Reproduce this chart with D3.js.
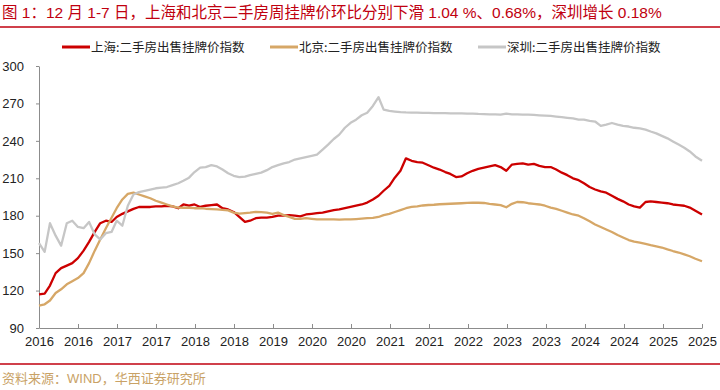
<!DOCTYPE html>
<html>
<head>
<meta charset="utf-8">
<script src="https://cdn.jsdelivr.net/npm/d3@7"></script>
<style>
body{margin:0;background:#fff}
svg{display:block;font-family:"Liberation Sans","Noto Sans CJK SC",sans-serif}
</style>
</head>
<body>
<svg></svg>
<script>
// monthly readings, Jan 2016 .. Nov 2025, last point = 7 Dec 2025
let dates = d3.timeMonth.range(new Date(2016,0,1), new Date(2025,11,1))
dates.push(new Date(2025,11,7))

let shanghai = [
  117, 117.5, 124, 134, 138, 140, 142, 146, 152, 159, 167, 174,
  176, 175, 179, 181.5, 183.5, 185.5, 187, 187, 187, 187.5, 187.5, 188,
  187.5, 186, 189, 188, 189, 187, 188, 188.5, 189, 186, 185, 183,
  179, 175, 176, 178, 178.5, 178.5, 179, 180, 180, 180.5, 180, 179.5,
  181, 181.5, 182, 182.5, 183.5, 184.5, 185, 186, 187, 188, 189, 190.5,
  193, 196, 200, 204, 210.5, 216, 226, 224, 223, 222.5, 220.5, 218.5,
  217, 215, 213.5, 211, 211.5, 214, 216, 217.5, 218.5, 219.5, 220.5, 219,
  216, 221, 221.5, 222, 221, 221.5, 220, 219, 219, 217, 214.5, 212.5,
  210, 208.5, 206, 203, 201, 199.5, 198.5, 196, 193.5, 191.5, 189, 187.5,
  186.5, 191, 191.5, 191, 190.5, 190, 189, 188.5, 188, 186.5, 184, 181
]

let beijing = [
  108, 109, 112, 118, 121, 125, 127.5, 130, 134, 142, 152, 161,
  170, 178.4, 186, 193, 197.5, 198.5, 197, 195.5, 194, 192, 190.5, 189,
  187.5, 186.5, 186.4, 186.4, 186, 186, 185.6, 185.3, 185, 184.7, 184.3, 182.5,
  181.6, 182, 182.4, 183, 182.8, 182.4, 181.5, 182.5, 180.5, 179, 177.5, 177.5,
  178, 177.5, 177, 177, 177, 177, 176.8, 177, 177, 177.3, 177.7, 178,
  178.2, 179, 180.5, 181.5, 183, 184.5, 186, 187, 187.5, 188.2, 188.6, 188.8,
  189.2, 189.4, 189.6, 189.8, 190, 190.3, 190.4, 190.4, 190.2, 189.5, 189, 188.5,
  186.8, 189.5, 191, 190.8, 190, 189.5, 189, 188, 186.5, 185.5, 184, 182.5,
  181, 180, 178, 175.5, 173, 171, 169, 167, 164.5, 162.5, 160.5, 159.3,
  158.5, 157.5, 156.5, 155.5, 154.5, 153, 151.7, 150.5, 149, 147.5, 145.5, 143.5
]

let shenzhen = [
  158, 151, 174, 164, 156, 174, 176, 171, 170, 175, 165, 161,
  166, 167, 176, 172, 188, 197, 199, 200, 201, 202, 202.5, 203,
  204.5, 206, 208, 210.5, 215, 218.5, 219, 220.5, 219.5, 217, 214, 212,
  211, 211.3, 212.5, 213.5, 214.5, 216.5, 219, 220.5, 222, 223, 225, 226,
  227, 228, 229, 233, 237, 241.5, 245, 250.5, 254.5, 257, 260.5, 262.5,
  268, 275, 265, 264, 263.5, 263, 262.8, 262.7, 262.6, 262.5, 262.4, 262.3,
  262.2, 262.2, 262.1, 262, 262, 261.9, 261.8, 261.6, 261.5, 261.3, 261.2, 261,
  261.8, 261.3, 261.2, 261.1, 261, 260.8, 260.5, 260.2, 260, 259.5, 259, 258.5,
  258, 257, 257, 256, 255.5, 252, 253, 254.3, 253, 252, 251.5, 250.5,
  250, 249, 247.5, 246, 244, 242, 239.5, 237, 234.5, 231.5, 227.5, 224
]

let seriesNames = ['上海:二手房出售挂牌价指数','北京:二手房出售挂牌价指数','深圳:二手房出售挂牌价指数']
let seriesColors = ['#cc0000','#d6a767','#c6c6c6']

let yTicks = [90,120,150,180,210,240,270,300]
let xTickLabels = ['2016','2016','2017','2017','2018','2018','2019','2020','2020',
                   '2021','2021','2022','2023','2023','2024','2024','2025','2025']

let title = '图 1：12 月 1-7 日，上海和北京二手房周挂牌价环比分别下滑 1.04 %、0.68%，深圳增长 0.18%'
let source = '资料来源：WIND，华西证券研究所'

let width = 720
let height = 390
let plotLeft = 39, plotRight = 702, plotTop = 66, plotBottom = 328

let svg = d3.select('svg').attr('width',width).attr('height',height)

let xScale = d3.scaleTime()
               .domain([dates[0], dates[dates.length-1]])
               .range([plotLeft,plotRight])
let yScale = d3.scaleLinear()
               .domain([90,300])
               .range([plotBottom,plotTop])

// title + rules
svg.append('text')
   .attr('x',2).attr('y',18)
   .attr('fill','#c0000f')
   .style('font-size','15.5px')
   .text(title)
svg.append('line').attr('x1',0).attr('x2',width).attr('y1',27).attr('y2',27)
   .attr('stroke','#c0000f').attr('stroke-width',1.5)
svg.append('line').attr('x1',0).attr('x2',width).attr('y1',364).attr('y2',364)
   .attr('stroke','#c0000f').attr('stroke-width',1.5)
svg.append('text')
   .attr('x',2).attr('y',383)
   .attr('fill','#c9a266')
   .style('font-size','13px')
   .text(source)

// axes
let tickDates = d3.range(xTickLabels.length).map((k) => {
  let t0 = +dates[0], t1 = +dates[dates.length-1]
  return new Date(t0 + k*(t1-t0)/(xTickLabels.length-1))
})

let xAxis = d3.axisBottom(xScale)
              .tickValues(tickDates)
              .tickFormat((d,i) => xTickLabels[i])
              .tickSizeInner(-4)
              .tickSizeOuter(0)
              .tickPadding(9)
svg.append('g')
   .attr('transform','translate(0,' + plotBottom + ')')
   .call(xAxis)

let yAxis = d3.axisLeft(yScale)
              .tickValues(yTicks)
              .tickSizeInner(3)
              .tickSizeOuter(0)
              .tickPadding(12)
svg.append('g')
   .attr('transform','translate(' + plotLeft + ',0)')
   .call(yAxis)

svg.selectAll('.domain, .tick line').attr('stroke','#8c8c8c')
svg.selectAll('.tick text')
   .attr('fill','#222')
   .style('font-size','13px')
   .style('font-family','"Liberation Sans", sans-serif')

// lines
let line = d3.line()
             .x((d,i) => xScale(dates[i]))
             .y((d) => yScale(d))

let allSeries = [shanghai, beijing, shenzhen]
svg.selectAll('path.series')
   .data(allSeries)
   .enter()
   .append('path')
   .attr('class','series')
   .attr('d',(d) => line(d))
   .attr('fill','none')
   .attr('stroke',(d,i) => seriesColors[i])
   .attr('stroke-width',2.3)
   .attr('stroke-linejoin','round')

// legend
let legendX = [62, 270, 478]
let legend = svg.selectAll('g.legend')
   .data(seriesNames)
   .enter()
   .append('g')
   .attr('class','legend')
   .attr('transform',(d,i) => 'translate(' + legendX[i] + ',47)')
legend.append('line')
   .attr('x1',0).attr('x2',28).attr('y1',0).attr('y2',0)
   .attr('stroke',(d,i) => seriesColors[i])
   .attr('stroke-width',3)
legend.append('text')
   .attr('x',29).attr('y',4.5)
   .attr('fill','#222')
   .style('font-size','12.5px')
   .style('font-family','"Noto Sans CJK SC", sans-serif')
   .text((d) => d)
</script>
</body>
</html>
